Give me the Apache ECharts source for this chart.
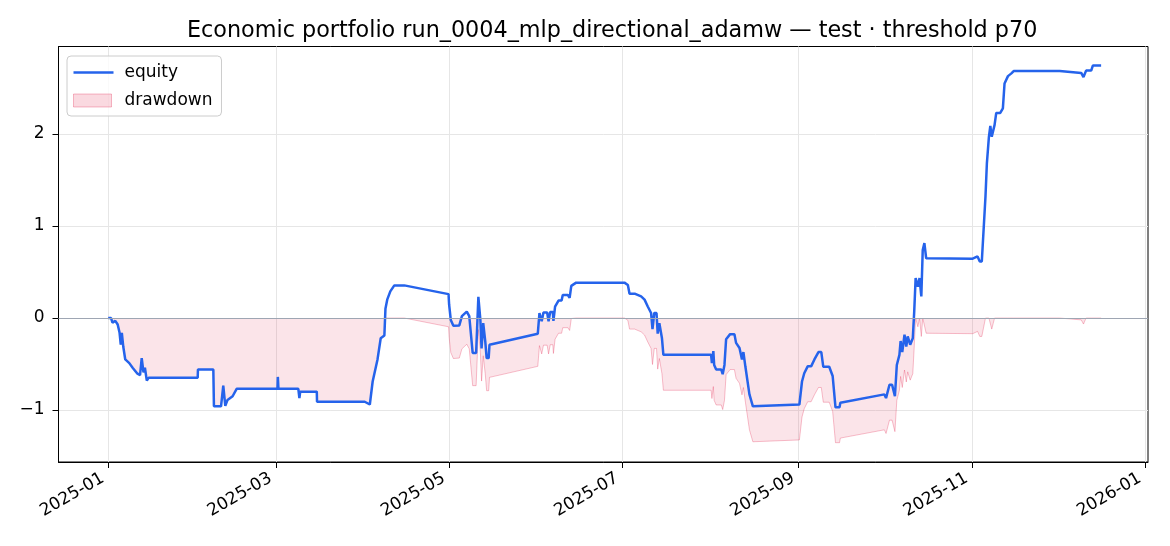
<!DOCTYPE html>
<html>
<head>
<meta charset="utf-8">
<script src="https://cdn.jsdelivr.net/npm/echarts@6/dist/echarts.min.js"></script>
<style>
  html, body { margin: 0; padding: 0; background: #fff; }
  #chart { width: 1170px; height: 546px; }
</style>
</head>
<body>
<div id="chart"></div>
<script>
// equity curve of the test run
const dates = [
  '2025-01-01', '2025-01-02', '2025-01-02 12:00', '2025-01-03 12:00', '2025-01-04 08:00',
  '2025-01-05', '2025-01-05 10:00', '2025-01-05 19:00', '2025-01-06 07:00', '2025-01-07',
  '2025-01-08 10:00', '2025-01-09 14:00', '2025-01-11 07:00', '2025-01-12 05:00', '2025-01-12 19:00',
  '2025-01-13 10:00', '2025-01-13 22:00', '2025-01-14 14:00', '2025-01-15 05:00', '2025-02-01 12:00',
  '2025-02-01 14:00', '2025-02-07', '2025-02-07 05:00', '2025-02-09 17:00', '2025-02-10 12:00',
  '2025-02-11 05:00', '2025-02-12', '2025-02-13 19:00', '2025-02-15 05:00', '2025-03-01 14:00',
  '2025-03-01 17:00', '2025-03-01 22:00', '2025-03-08 22:00', '2025-03-09 07:00', '2025-03-09 14:00',
  '2025-03-15 10:00', '2025-03-15 12:00', '2025-04-01 07:00', '2025-04-03 02:00', '2025-04-04 02:00',
  '2025-04-05 19:00', '2025-04-06 22:00', '2025-04-08 05:00', '2025-04-08 14:00', '2025-04-09 05:00',
  '2025-04-10 07:00', '2025-04-11 17:00', '2025-04-15 05:00', '2025-04-30 19:00', '2025-05-01',
  '2025-05-01 14:00', '2025-05-02 12:00', '2025-05-04 14:00', '2025-05-05 12:00', '2025-05-07 05:00',
  '2025-05-08 02:00', '2025-05-09 07:00', '2025-05-10 12:00', '2025-05-11 07:00', '2025-05-12',
  '2025-05-12 10:00', '2025-05-13', '2025-05-13 17:00', '2025-05-14 05:00', '2025-05-14 22:00',
  '2025-05-15 05:00', '2025-06-01 05:00', '2025-06-01 19:00', '2025-06-02 14:00', '2025-06-03 05:00',
  '2025-06-04 12:00', '2025-06-05', '2025-06-05 14:00', '2025-06-06 12:00', '2025-06-06 17:00',
  '2025-06-07 07:00', '2025-06-08 12:00', '2025-06-09 14:00', '2025-06-10', '2025-06-11 19:00',
  '2025-06-12 10:00', '2025-06-13', '2025-06-14 17:00', '2025-07-01 17:00', '2025-07-02 22:00',
  '2025-07-03 12:00', '2025-07-05 07:00', '2025-07-07 14:00', '2025-07-08 19:00', '2025-07-09 22:00',
  '2025-07-11 02:00', '2025-07-11 14:00', '2025-07-12 05:00', '2025-07-13', '2025-07-13 10:00',
  '2025-07-14', '2025-07-14 22:00', '2025-07-15 10:00', '2025-08-01 05:00', '2025-08-01 12:00',
  '2025-08-02', '2025-08-02 07:00', '2025-08-03', '2025-08-04 19:00', '2025-08-05 07:00',
  '2025-08-05 22:00', '2025-08-06 12:00', '2025-08-07 22:00', '2025-08-09 10:00', '2025-08-10',
  '2025-08-11 05:00', '2025-08-12 02:00', '2025-08-12 14:00', '2025-08-13 07:00', '2025-08-14 17:00',
  '2025-08-15 22:00', '2025-09-01 07:00', '2025-09-02 05:00', '2025-09-03', '2025-09-04 05:00',
  '2025-09-05 10:00', '2025-09-06 14:00', '2025-09-08', '2025-09-09', '2025-09-09 17:00',
  '2025-09-11 19:00', '2025-09-13', '2025-09-14', '2025-09-15 10:00', '2025-09-15 17:00',
  '2025-10-01 05:00', '2025-10-01 19:00', '2025-10-03', '2025-10-03 22:00', '2025-10-04 22:00',
  '2025-10-05 14:00', '2025-10-06 12:00', '2025-10-06 22:00', '2025-10-07 12:00', '2025-10-08 07:00',
  '2025-10-08 22:00', '2025-10-09 10:00', '2025-10-10 07:00', '2025-10-11 05:00', '2025-10-11 17:00',
  '2025-10-12 05:00', '2025-10-13', '2025-10-13 14:00', '2025-10-14 05:00', '2025-10-14 17:00',
  '2025-10-15 07:00', '2025-10-15 22:00', '2025-11-01 07:00', '2025-11-01 22:00', '2025-11-03',
  '2025-11-03 19:00', '2025-11-04 12:00', '2025-11-05 19:00', '2025-11-06 07:00', '2025-11-07',
  '2025-11-07 12:00', '2025-11-08', '2025-11-09', '2025-11-09 14:00', '2025-11-11',
  '2025-11-11 22:00', '2025-11-12 12:00', '2025-11-13 17:00', '2025-11-14 22:00', '2025-11-15 17:00',
  '2025-12-01 22:00', '2025-12-02 12:00', '2025-12-09 12:00', '2025-12-10 07:00', '2025-12-11 05:00',
  '2025-12-13', '2025-12-13 14:00', '2025-12-16 12:00'
];
const equity = [
  0, 0, -0.05, -0.03, -0.07,
  -0.16, -0.29, -0.16, -0.31, -0.45,
  -0.49, -0.54, -0.605, -0.62, -0.435,
  -0.59, -0.54, -0.68, -0.65, -0.65,
  -0.56, -0.56, -0.96, -0.96, -0.735,
  -0.955, -0.89, -0.85, -0.77, -0.77,
  -0.64, -0.77, -0.77, -0.87, -0.80,
  -0.80, -0.91, -0.91, -0.94, -0.69,
  -0.45, -0.22, -0.19, 0.10, 0.20,
  0.29, 0.355, 0.355, 0.26, 0.145,
  -0.02, -0.085, -0.08, 0.02, 0.07,
  0.02, -0.38, -0.38, 0.23, -0.02,
  -0.33, -0.055, -0.25, -0.435, -0.435,
  -0.29, -0.17, 0.055, -0.035, 0.06,
  0.06, -0.035, 0.065, 0.065, -0.03,
  0.125, 0.19, 0.19, 0.25, 0.25,
  0.22, 0.35, 0.385, 0.385, 0.36,
  0.265, 0.265, 0.235, 0.2, 0.125,
  0.055, -0.12, 0.055, 0.055, -0.17,
  -0.055, -0.22, -0.40, -0.40, -0.49,
  -0.36, -0.51, -0.56, -0.56, -0.61,
  -0.51, -0.23, -0.175, -0.175, -0.27,
  -0.325, -0.45, -0.37, -0.53, -0.83,
  -0.96, -0.94, -0.69, -0.60, -0.525,
  -0.525, -0.45, -0.37, -0.37, -0.53,
  -0.53, -0.63, -0.97, -0.97, -0.92,
  -0.83, -0.87, -0.725, -0.725, -0.85,
  -0.51, -0.40, -0.25, -0.37, -0.18,
  -0.31, -0.2, -0.29, -0.22, 0.07,
  0.435, 0.34, 0.435, 0.235, 0.74,
  0.815, 0.65, 0.645, 0.64, 0.67,
  0.615, 0.615, 1.32, 1.685, 1.97,
  2.09, 1.97, 2.10, 2.23, 2.23,
  2.28, 2.55, 2.63, 2.66, 2.685,
  2.685, 2.665, 2.665, 2.62, 2.69,
  2.69, 2.745, 2.745
];
// drawdown below the running peak, same dates
const drawdown = [
  0, 0, -0.05, -0.03, -0.07,
  -0.16, -0.29, -0.16, -0.31, -0.45,
  -0.49, -0.54, -0.605, -0.62, -0.435,
  -0.59, -0.54, -0.68, -0.65, -0.65,
  -0.56, -0.56, -0.96, -0.96, -0.735,
  -0.955, -0.89, -0.85, -0.77, -0.77,
  -0.64, -0.77, -0.77, -0.87, -0.80,
  -0.80, -0.91, -0.91, -0.94, -0.69,
  -0.45, -0.22, -0.19, 0, 0,
  0, 0, 0, -0.095, -0.21,
  -0.375, -0.44, -0.435, -0.335, -0.285,
  -0.335, -0.735, -0.735, -0.125, -0.375,
  -0.685, -0.41, -0.605, -0.79, -0.79,
  -0.645, -0.525, -0.30, -0.39, -0.295,
  -0.295, -0.39, -0.29, -0.29, -0.385,
  -0.23, -0.165, -0.165, -0.105, -0.105,
  -0.135, -0.005, 0, 0, -0.025,
  -0.12, -0.12, -0.15, -0.185, -0.26,
  -0.33, -0.505, -0.33, -0.33, -0.555,
  -0.44, -0.605, -0.785, -0.785, -0.875,
  -0.745, -0.895, -0.945, -0.945, -0.995,
  -0.895, -0.615, -0.56, -0.56, -0.655,
  -0.71, -0.835, -0.755, -0.915, -1.215,
  -1.345, -1.325, -1.075, -0.985, -0.91,
  -0.91, -0.835, -0.755, -0.755, -0.915,
  -0.915, -1.015, -1.355, -1.355, -1.305,
  -1.215, -1.255, -1.11, -1.11, -1.235,
  -0.895, -0.785, -0.635, -0.755, -0.565,
  -0.695, -0.585, -0.675, -0.605, -0.315,
  0, -0.095, 0, -0.2, 0,
  0, -0.165, -0.17, -0.175, -0.145,
  -0.2, -0.2, 0, 0, 0,
  0, -0.12, 0, 0, 0,
  0, 0, 0, 0, 0,
  0, -0.02, -0.02, -0.065, 0,
  0, 0, 0
];
const xTickLabels = ['2025-01', '2025-03', '2025-05', '2025-07', '2025-09', '2025-11', '2026-01'];
const yTicks = [-1, 0, 1, 2];

const font = 'DejaVu Sans';
const blue = '#2563eb';
const pink = 'rgba(225,29,72,0.17)';

// 'YYYY-MM-DD[ HH:mm]' -> UTC ms
function ts(s) {
  const [d, t] = s.split(' ');
  const [y, m, day] = d.split('-').map(Number);
  const [hh, mm] = (t || '00:00').split(':').map(Number);
  return Date.UTC(y, m - 1, day || 1, hh, mm);
}
function ym(v) {
  const d = new Date(v);
  return d.getUTCFullYear() + '-' + String(d.getUTCMonth() + 1).padStart(2, '0');
}

const xTicks = xTickLabels.map(ts);

const chart = echarts.init(document.getElementById('chart'), null, { renderer: 'canvas' });

chart.setOption({
  animation: false,
  backgroundColor: '#fff',
  title: {
    text: 'Economic portfolio run_0004_mlp_directional_adamw \u2014 test \u00b7 threshold p70',
    left: 182,
    top: 15,
    textStyle: { fontFamily: font, fontSize: 22.3, fontWeight: 'normal', color: '#000' }
  },
  legend: {
    orient: 'vertical',
    left: 67,
    top: 56,
    padding: [8, 9, 7, 6],
    itemWidth: 40,
    itemHeight: 13,
    itemGap: 11,
    backgroundColor: 'rgba(255,255,255,0.8)',
    borderColor: '#cccccc',
    borderWidth: 1,
    borderRadius: 4,
    textStyle: { fontFamily: font, fontSize: 17, color: '#000', padding: [0, 0, 0, 6] },
    data: [
      // thin bar drawn inside a full-height box, so it stays a line
      { name: 'equity', icon: 'path://M0,0 M0,5.3 L40,5.3 L40,7.7 L0,7.7 Z M40,13',
        itemStyle: { color: blue } },
      { name: 'drawdown', icon: 'path://M0,0 M0,0 L38,0 L38,13 L0,13 Z M40,13',
        itemStyle: { color: pink, borderColor: 'rgba(225,29,72,0.3)', borderWidth: 1 } }
    ]
  },
  grid: {
    left: 58.5, right: 22, top: 46.5, bottom: 84,
    show: true, borderColor: '#000', borderWidth: 1, containLabel: false
  },
  xAxis: {
    type: 'value',
    min: ts('2024-12-14 12:00'),
    max: ts('2026-01-02'),
    axisLine: { show: true, onZero: false, lineStyle: { color: '#000', width: 1 } },
    axisTick: { show: true, length: 6, lineStyle: { color: '#000' }, customValues: xTicks },
    axisLabel: {
      customValues: xTicks,
      formatter: v => ym(v),
      rotate: 30, margin: 12,
      padding: [0, 6, 0, 0],
      fontFamily: font, fontSize: 17, color: '#000'
    },
    splitLine: { show: true, lineStyle: { color: '#e6e6e6', width: 1 } }
  },
  yAxis: {
    type: 'value',
    min: -1.565,
    max: 2.952,
    axisLine: { show: true, lineStyle: { color: '#000', width: 1 } },
    axisTick: { show: true, length: 6, lineStyle: { color: '#000' }, customValues: yTicks },
    axisLabel: {
      customValues: yTicks,
      formatter: v => (v < 0 ? '\u2212' + Math.abs(v) : String(v)),
      margin: 14,
      fontFamily: font, fontSize: 17, color: '#000'
    },
    splitLine: { show: true, lineStyle: { color: '#e6e6e6', width: 1 } }
  },
  series: [
    {
      name: 'drawdown',
      type: 'line',
      data: dates.map((d, i) => [ts(d), drawdown[i]]),
      symbol: 'none',
      color: pink,
      lineStyle: { color: 'rgba(225,29,72,0.28)', width: 1 },
      areaStyle: { color: pink, origin: 0 },
      markLine: {
        silent: true,
        symbol: 'none',
        label: { show: false },
        lineStyle: { color: '#9ea6b3', width: 1.2, type: 'solid' },
        data: [{ yAxis: 0 }]
      },
      z: 2
    },
    {
      name: 'equity',
      type: 'line',
      data: dates.map((d, i) => [ts(d), equity[i]]),
      symbol: 'none',
      color: blue,
      lineStyle: { color: blue, width: 2.5 },
      z: 3
    }
  ]
});
</script>
</body>
</html>
